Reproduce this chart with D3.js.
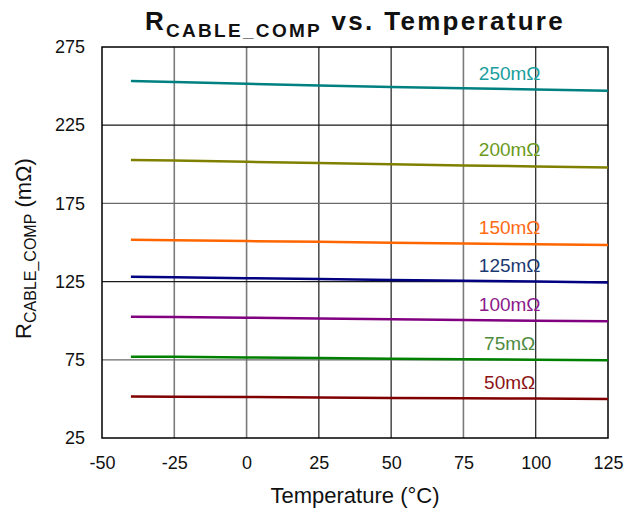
<!DOCTYPE html>
<html>
<meta charset="utf-8">
<head>
  <script src="https://d3js.org/d3.v7.js"></script>
  <style>
    body { margin: 0; background: #fff; }
    text { font-family: "Liberation Sans", Arial, sans-serif; }
  </style>
</head>
<body>
<svg id="graph" width="630" height="513"></svg>
<script>
  // temperature points (°C)
  var temps = [-40, -25, 0, 25, 50, 75, 100, 125];

  // one array per cable compensation setting (mΩ)
  var r250 = [253.2, 252.6, 251.5, 250.4, 249.4, 248.6, 247.8, 247.1];
  var r200 = [202.8, 202.4, 201.6, 200.8, 200.0, 199.3, 198.6, 197.9];
  var r150 = [151.8, 151.5, 150.9, 150.4, 149.8, 149.3, 148.9, 148.4];
  var r125 = [128.1, 127.8, 127.2, 126.6, 126.0, 125.5, 125.0, 124.5];
  var r100 = [102.6, 102.4, 101.9, 101.4, 100.9, 100.4, 100.0, 99.6];
  var r75  = [77.0, 76.9, 76.5, 76.1, 75.7, 75.4, 75.0, 74.7];
  var r50  = [51.5, 51.4, 51.2, 50.9, 50.6, 50.4, 50.2, 50.0];

  var seriesNames = ["250mΩ", "200mΩ", "150mΩ", "125mΩ", "100mΩ", "75mΩ", "50mΩ"];
  var seriesValues = [r250, r200, r150, r125, r100, r75, r50];
  var lineColors = ["#008080", "#808000", "#ff6600", "#000080", "#800080", "#008000", "#800000"];
  var labelColors = ["#1a9e9e", "#6b9a1c", "#ff6a14", "#1c3a72", "#8c1a8c", "#4e8a3e", "#8c1414"];

  var xTicks = [-50, -25, 0, 25, 50, 75, 100, 125];
  var yTicks = [25, 75, 125, 175, 225, 275];

  var svg = d3.select("svg#graph");
  var margin = {top: 47, right: 22, bottom: 75, left: 102};
  var width = +svg.attr("width") - margin.left - margin.right;
  var height = +svg.attr("height") - margin.top - margin.bottom;
  var g = svg.append("g").attr("transform", `translate(${margin.left}, ${margin.top})`);

  var xScale = d3.scaleLinear().domain([-50, 125]).range([0, width]);
  var yScale = d3.scaleLinear().domain([25, 275]).range([height, 0]);

  // grid: some lines darker than others, as in the original
  var darkV = [25, 50, 100];
  var darkH = [225, 125];
  g.selectAll("line.vgrid")
    .data(xTicks.slice(1, -1))
    .enter().append("line")
    .attr("x1", d => xScale(d)).attr("x2", d => xScale(d))
    .attr("y1", 0).attr("y2", height)
    .attr("stroke", d => darkV.includes(d) ? "#1a1a1a" : "#7a7a7a")
    .attr("stroke-width", d => darkV.includes(d) ? 1.2 : 1.6);

  g.selectAll("line.hgrid")
    .data(yTicks.slice(1, -1))
    .enter().append("line")
    .attr("x1", 0).attr("x2", width)
    .attr("y1", d => yScale(d)).attr("y2", d => yScale(d))
    .attr("stroke", d => darkH.includes(d) ? "#1a1a1a" : "#6a6a6a")
    .attr("stroke-width", 1.3);

  g.append("rect")
    .attr("width", width).attr("height", height)
    .attr("fill", "none").attr("stroke", "#000").attr("stroke-width", 1.5);

  // axes
  var xAxis = d3.axisBottom(xScale).tickValues(xTicks).tickSize(0).tickPadding(18)
    .tickFormat(d => String(d));
  var yAxis = d3.axisLeft(yScale).tickValues(yTicks).tickSize(0).tickPadding(17)
    .tickFormat(d => String(d));

  var gx = g.append("g").attr("transform", `translate(0, ${height})`).call(xAxis);
  var gy = g.append("g").call(yAxis);
  [gx, gy].forEach(function(a) {
    a.select(".domain").remove();
    a.selectAll("text")
      .attr("font-size", 18)
      .attr("fill", "#111");
  });

  // lines
  var line = d3.line()
    .x((d, i) => xScale(temps[i]))
    .y(d => yScale(d));

  seriesValues.forEach(function(vals, k) {
    g.append("path")
      .datum(vals)
      .attr("d", line)
      .attr("fill", "none")
      .attr("stroke", lineColors[k])
      .attr("stroke-width", 2.5);

    g.append("text")
      .attr("x", xScale(91))
      .attr("y", yScale(vals[6]) - 10)
      .attr("text-anchor", "middle")
      .attr("font-size", 19)
      .attr("fill", labelColors[k])
      .text(seriesNames[k]);
  });

  // title
  var title = svg.append("text")
    .attr("x", margin.left + width / 2)
    .attr("y", 30)
    .attr("text-anchor", "middle")
    .attr("font-weight", "bold")
    .attr("font-size", 26)
    .attr("letter-spacing", 2.3)
    .attr("fill", "#111");
  title.append("tspan").text("R");
  title.append("tspan").attr("font-size", 19).attr("dy", 7).text("CABLE_COMP");
  title.append("tspan").attr("dy", -7).text(" vs. Temperature");

  // axis titles
  svg.append("text")
    .attr("x", margin.left + width / 2)
    .attr("y", 503)
    .attr("text-anchor", "middle")
    .attr("font-size", 22)
    .attr("fill", "#111")
    .text("Temperature (°C)");

  var yt = svg.append("text")
    .attr("transform", `translate(31, ${margin.top + height / 2 + 6}) rotate(-90)`)
    .attr("text-anchor", "middle")
    .attr("font-size", 22)
    .attr("fill", "#111");
  yt.append("tspan").text("R");
  yt.append("tspan").attr("font-size", 16).attr("dy", 5).text("CABLE_COMP");
  yt.append("tspan").attr("dy", -5).text(" (mΩ)");
</script>
</body>
</html>
